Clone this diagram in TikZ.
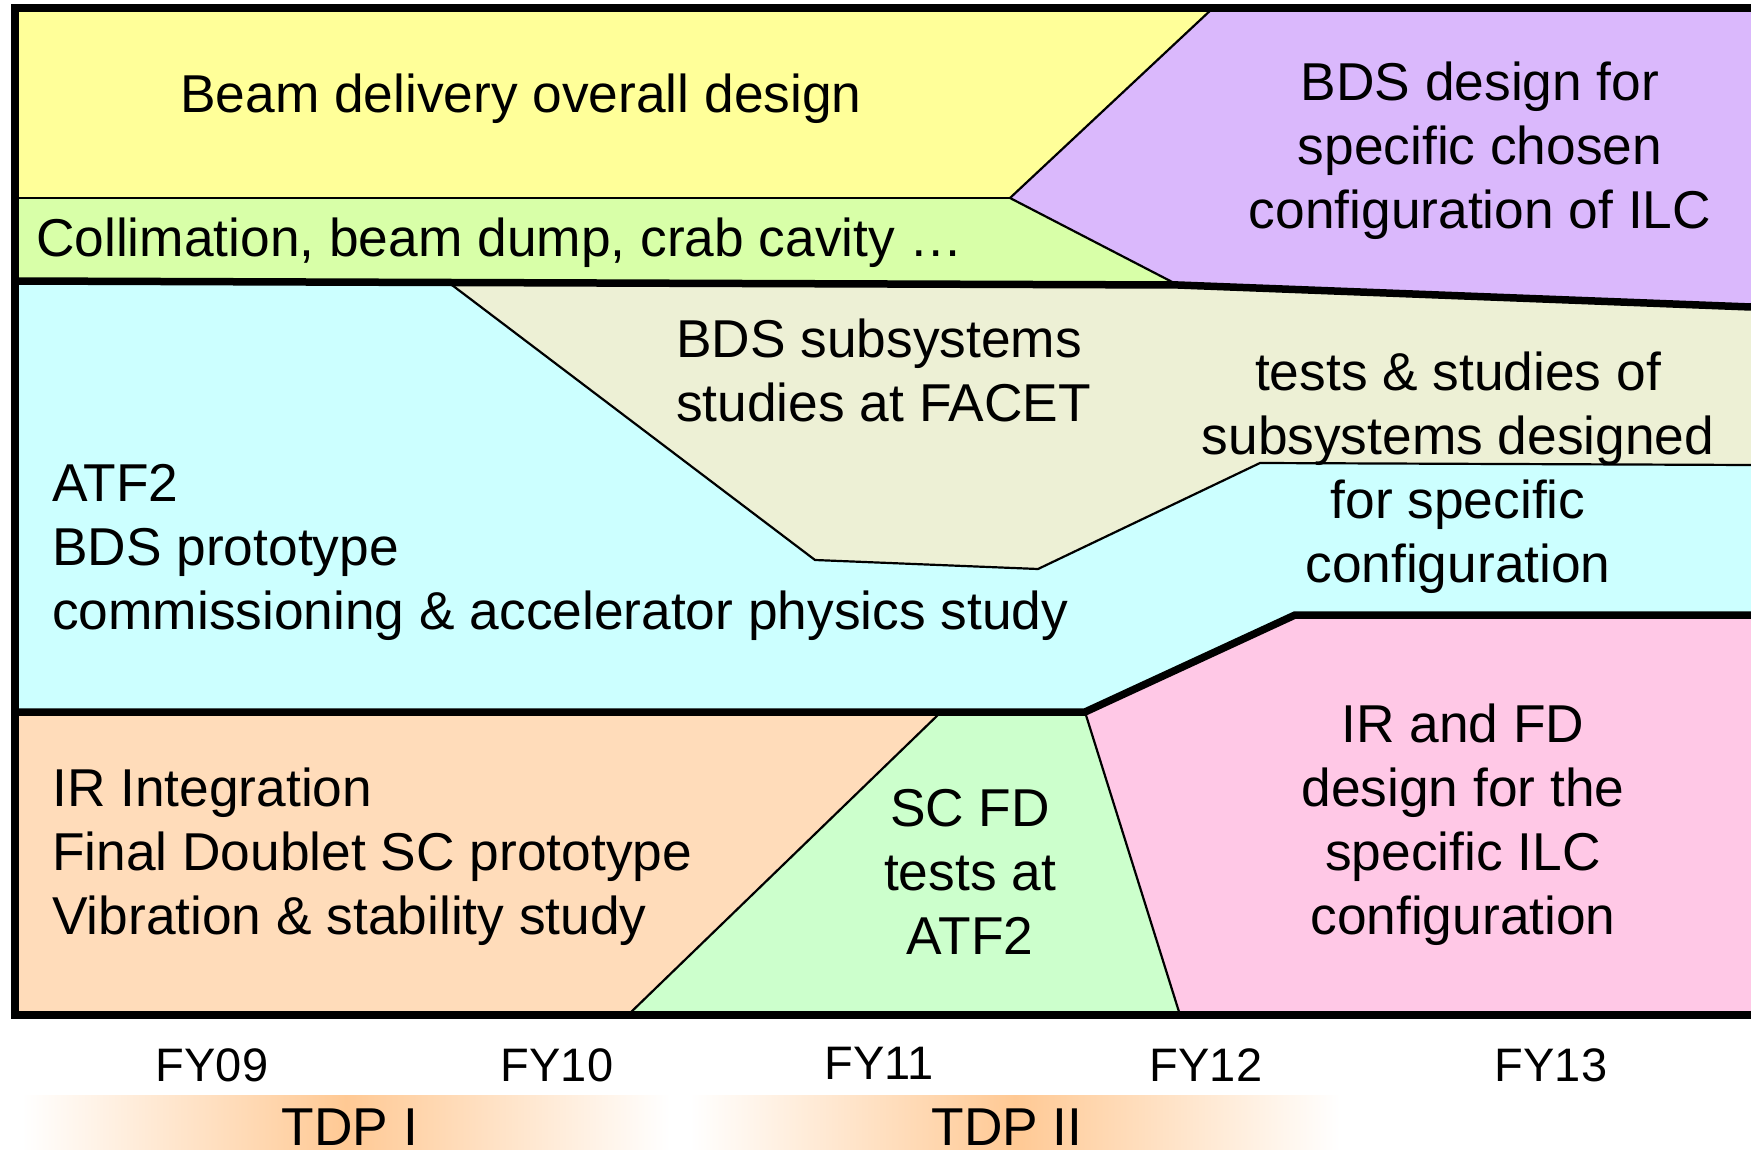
\documentclass[tikz,border=0pt]{standalone}
\usepackage{fontspec}
\setmainfont{Liberation Sans}
\definecolor{cyellow}{HTML}{FFFF99}
\definecolor{clime}{HTML}{D8FFA8}
\definecolor{cpurple}{HTML}{DAB8FC}
\definecolor{cbeige}{HTML}{EDF0D5}
\definecolor{ccyan}{HTML}{CCFFFF}
\definecolor{corange}{HTML}{FFDCBA}
\definecolor{cgreen}{HTML}{CCFFCC}
\definecolor{cpink}{HTML}{FFC8E6}
\definecolor{tdporange}{HTML}{FFC994}
\pgfdeclarehorizontalshading{tdpband}{100bp}{color(0bp)=(white); color(25bp)=(white); color(50bp)=(tdporange); color(75bp)=(white); color(100bp)=(white)}
\begin{document}
\begin{tikzpicture}[x=1pt,y=-1pt,
  thinline/.style={line width=2.2pt, line join=miter},
  thickline/.style={line width=7.5pt, line join=miter},
  txt/.style={font=\fontsize{53.3}{64}\selectfont, inner sep=0pt},
  fy/.style={font=\fontsize{47}{56}\selectfont, inner sep=0pt, anchor=base}]
\useasboundingbox (0,0) rectangle (1751,1150);
\fill[white] (0,0) rectangle (1751,1150);
% regions
\fill[cyellow] (15,8) -- (1213,8) -- (1010,198) -- (15,198) -- cycle;
\fill[clime] (15,198) -- (1010,198) -- (1178,285) -- (15,281) -- cycle;
\fill[cpurple] (1213,8) -- (1751,8) -- (1751,307) -- (1178,285) -- (1010,198) -- cycle;
\fill[cbeige] (448,282) -- (1178,285) -- (1751,307) -- (1751,465) -- (1260,463) -- (1038,569) -- (815,560) -- cycle;
\fill[ccyan] (15,281) -- (448,282) -- (815,560) -- (1038,569) -- (1260,463) -- (1751,465) -- (1751,615) -- (1295,615) -- (1085,712) -- (15,712) -- cycle;
\fill[corange] (15,712) -- (941,712) -- (628,1015) -- (15,1015) -- cycle;
\fill[cgreen] (941,712) -- (1085,712) -- (1180,1015) -- (628,1015) -- cycle;
\fill[cpink] (1085,712) -- (1295,615) -- (1751,615) -- (1751,1015) -- (1180,1015) -- cycle;
% thin boundaries
\draw[thinline] (15,198) -- (1010,198);
\draw[thinline] (1213,8) -- (1010,198) -- (1178,285);
\draw[thinline] (448,282) -- (815,560) -- (1038,569) -- (1260,463) -- (1751,465);
\draw[thinline] (941,712) -- (628,1015);
\draw[thinline] (1085,712) -- (1180,1015);
% thick boundaries
\draw[thickline] (15,281) -- (1178,285) -- (1751,307);
\draw[thickline] (15,712) -- (1085,712) -- (1295,615) -- (1751,615);
\draw[thickline] (1751,8) -- (15,8) -- (15,1015) -- (1751,1015);
% texts
\node[txt, anchor=base west] (nbeam) at (180,113) {Beam delivery overall design};
\node[txt, anchor=base west] (ncoll) at (36,257) {Collimation, beam dump, crab cavity …};
\node[txt, anchor=north, align=center] (nbdsd) at (1480,62) {BDS design for\\specific chosen\\configuration of ILC};
\node[txt, anchor=north west, align=left] (nfacet) at (676,319) {BDS subsystems\\studies at FACET};
\node[txt, anchor=north, align=center] (ntests) at (1458,352) {tests \& studies of\\subsystems designed\\for specific\\configuration};
\node[txt, anchor=north west, align=left] (natf) at (52,464) {ATF2\\BDS prototype\\commissioning \& accelerator physics study};
\node[txt, anchor=north west, align=left] (nir) at (52,768) {IR Integration\\Final Doublet SC prototype\\Vibration \& stability study};
\node[txt, anchor=north, align=center] (nscfd) at (970,789) {SC FD\\tests at\\ATF2};
\node[txt, anchor=north, align=center] (nirfd) at (1463,704) {IR and FD\\design for the\\specific ILC\\configuration};
% years
\node[fy] (fy09) at (212,1081) {FY09};
\node[fy] (fy10) at (557,1081) {FY10};
\node[fy] (fy11) at (879,1079) {FY11};
\node[fy] (fy12) at (1206,1081) {FY12};
\node[fy] (fy13) at (1551,1081) {FY13};
% TDP bands
\shade[shading=tdpband] (22,1095) rectangle (670,1150);
\shade[shading=tdpband] (690,1095) rectangle (1340,1150);
\node[txt, anchor=base] (tdp1) at (350,1145) {TDP I};
\node[txt, anchor=base] (tdp2) at (1007,1145) {TDP II};
\end{tikzpicture}
\end{document}
